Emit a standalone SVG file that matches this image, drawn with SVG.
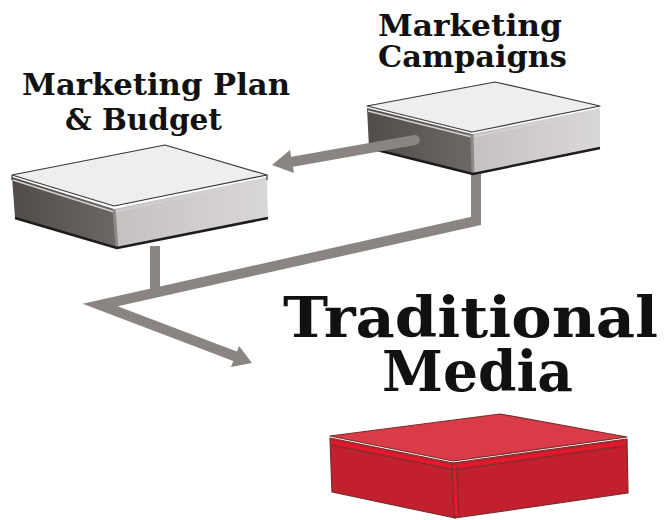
<svg xmlns="http://www.w3.org/2000/svg" width="667" height="520" viewBox="0 0 667 520">
<defs>
<style>
.lbl{font-family:"DejaVu Serif","Liberation Serif",serif;font-weight:bold;fill:#111;}
.sm{font-size:30px;}
.big{font-size:56px;}
.top{fill:#efeeee;stroke:#3a3838;stroke-width:1.2;stroke-linejoin:round;}
.lf{fill:url(#gl);}
.rf{fill:url(#gr);}
.edge{fill:none;stroke:#1e1c1c;stroke-width:2.5;stroke-linejoin:round;}
.bev{fill:none;stroke:#d4d2d2;stroke-width:1.5;}
.rtop{fill:#d93c48;stroke:#7a2e2a;stroke-width:1.2;stroke-linejoin:round;}
.rside{fill:#c21f2f;stroke:#7a2e2a;stroke-width:1.2;stroke-linejoin:round;}
.rbev{fill:none;stroke:#e8182a;stroke-width:3;}
.rln{fill:none;stroke:#7a2e2a;stroke-width:1;}
.conn{fill:none;stroke:#8a8582;stroke-width:10;stroke-linejoin:miter;}
.head{fill:#8a8582;}
</style>
<linearGradient id="gl" x1="0" y1="0" x2="1" y2="0">
<stop offset="0" stop-color="#514c4a"/>
<stop offset="1" stop-color="#6d6865"/>
</linearGradient>
<linearGradient id="gr" x1="0" y1="0" x2="1" y2="0">
<stop offset="0" stop-color="#c4c1c0"/>
<stop offset="1" stop-color="#dad8d7"/>
</linearGradient>
</defs>
<rect width="667" height="520" fill="#ffffff"/>

<g id="connectors">
<path class="conn" d="M155,246 L155,292"/>
<path class="conn" d="M476,170 L476,221 L100,305 L237,357"/>
<polygon class="head" points="252,363 231,367 239,346"/>
</g>

<g id="node-plan">
<polygon class="lf" points="12,177 114,209 117,248 15,218"/>
<polygon class="rf" points="114,209 267,177 268,218 117,248"/>
<path class="bev" d="M13,180 L114,212 L266,180"/>
<path d="M114,209 L117,248" stroke="#8e8a89" stroke-width="3" fill="none"/>
<polygon class="top" points="12,175 165,145 267,175 114,206"/>
<path class="edge" d="M15,218 L117,248 L268,218"/>
<path d="M12,175 L12,180 M267,175 L267,180" stroke="#3a3838" stroke-width="1.2"/>
<text class="lbl sm" x="22" y="95" textLength="268" lengthAdjust="spacingAndGlyphs">Marketing Plan</text>
<text class="lbl sm" x="65" y="130" textLength="157" lengthAdjust="spacingAndGlyphs">&amp; Budget</text>
</g>

<g id="node-campaigns">
<polygon class="lf" points="367,108 472,134 473,174 369,148"/>
<polygon class="rf" points="472,134 600,108 600,148 473,174"/>
<path class="bev" d="M368,111 L472,137 L599,111"/>
<path d="M472,134 L473,174" stroke="#8e8a89" stroke-width="3" fill="none"/>
<polygon class="top" points="367,106 495,82 600,106 472,132"/>
<path class="edge" d="M369,148 L473,174 L600,148"/>
<text class="lbl sm" x="378" y="36" textLength="184" lengthAdjust="spacingAndGlyphs">Marketing</text>
<text class="lbl sm" x="378" y="67" textLength="189" lengthAdjust="spacingAndGlyphs">Campaigns</text>
</g>

<g id="connector-top">
<path class="conn" d="M415,140 L291,162" stroke-linecap="round"/>
<polygon class="head" points="272,165 290,150 294,173"/>
</g>

<g id="node-traditional">
<polygon class="rside" points="330,438 453,463 455,518 332,492"/>
<polygon class="rside" points="453,463 627,439 628,493 455,518"/>
<path class="rbev" d="M331,442 L454,467 L626,443"/>
<path class="rbev" d="M454,467 L456,516"/>
<path class="rln" d="M331,445 L454,470 L626,446 M452,463 L454,518 M457,466 L459,517"/>
<polygon class="rtop" points="330,436 500,414 627,437 453,461"/>
<text class="lbl big" x="283" y="337" textLength="375" lengthAdjust="spacingAndGlyphs">Traditional</text>
<text class="lbl big" x="382" y="391" textLength="191" lengthAdjust="spacingAndGlyphs">Media</text>
</g>
</svg>
